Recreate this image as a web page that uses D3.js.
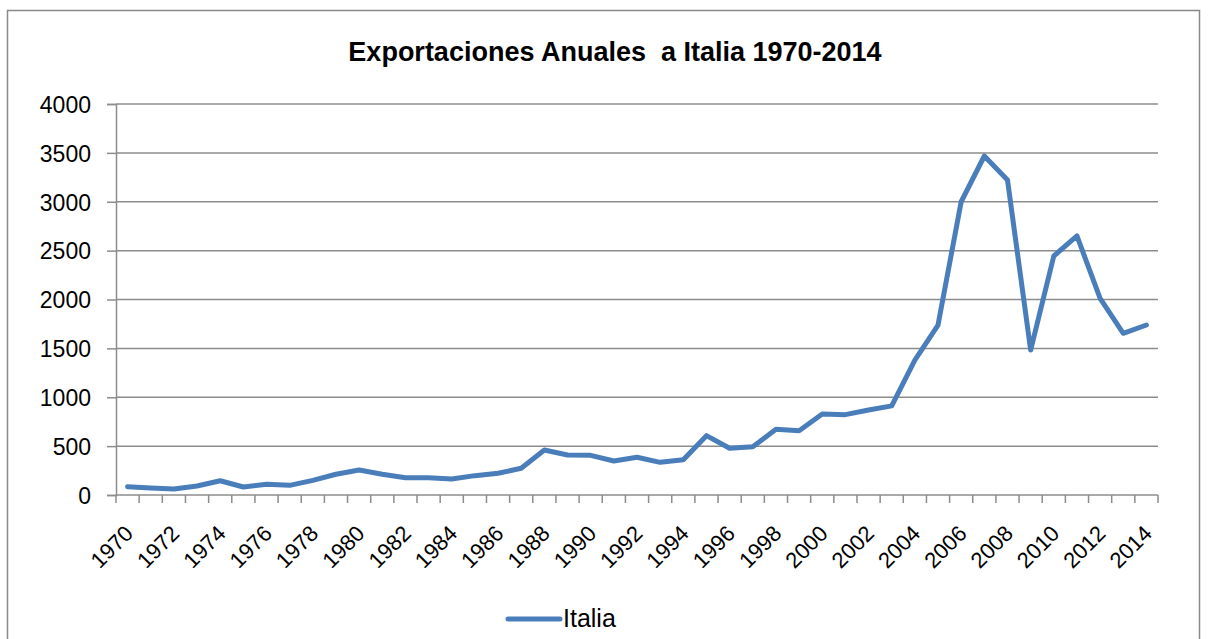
<!DOCTYPE html>
<html>
<head>
<meta charset="utf-8">
<script src="https://cdn.jsdelivr.net/npm/d3@7"></script>
<style>
  body { margin: 0; background: #fff; }
  text { font-family: "Liberation Sans", Arial, sans-serif; fill: #000; }
</style>
</head>
<body>
<svg id="chart"></svg>
<script>
const years = d3.range(1970, 2015)
const exportsItalia = [85, 72, 61, 92, 146, 82, 109, 99, 150, 212,
  256, 212, 177, 177, 164, 198, 222, 273, 460, 409,
  406, 348, 386, 334, 361, 607, 478, 494, 672, 658,
  829, 822, 870, 912, 1381, 1739, 3000, 3468, 3223, 1483,
  2445, 2650, 2012, 1654, 1739]
const yTicks = [0, 500, 1000, 1500, 2000, 2500, 3000, 3500, 4000]
const titleText = "Exportaciones Anuales\u00a0 a Italia 1970-2014"
const seriesName = "Italia"

const totalWidth = 1209, totalHeight = 639
const margin = { top: 104, right: 51, bottom: 144, left: 116 }
const chartWidth = totalWidth - margin.left - margin.right
const chartHeight = totalHeight - margin.top - margin.bottom

const svg = d3.select("#chart")
  .attr("width", totalWidth)
  .attr("height", totalHeight)

// cadre
svg.append("rect")
  .attr("x", 7.5).attr("y", 10.5)
  .attr("width", 1192).attr("height", 640)
  .attr("fill", "none").attr("stroke", "#898989").attr("stroke-width", 1.5)

svg.append("text")
  .attr("x", 615).attr("y", 61)
  .attr("text-anchor", "middle")
  .style("font-size", "27px").style("font-weight", "bold")
  .text(titleText)

const chart = svg.append("g")
  .attr("transform", "translate(" + margin.left + "," + margin.top + ")")

const xScale = d3.scaleBand().domain(years).range([0, chartWidth])
const yScale = d3.scaleLinear().domain([0, 4000]).range([chartHeight, 0])

// grille
chart.selectAll(".grid")
  .data(yTicks.filter(d => d > 0))
  .enter().append("line")
  .attr("class", "grid")
  .attr("x1", 0).attr("x2", chartWidth)
  .attr("y1", d => yScale(d)).attr("y2", d => yScale(d))
  .attr("stroke", "#8c8c8c").attr("stroke-width", 1.5)

// axe Y
const yAxis = d3.axisLeft(yScale).tickValues(yTicks).tickFormat(d3.format("d"))
  .tickSize(9).tickPadding(16)
const gy = chart.append("g").call(yAxis)
gy.select(".domain").attr("stroke", "#8c8c8c").attr("stroke-width", 1.5)
gy.selectAll(".tick line").attr("stroke", "#8c8c8c").attr("stroke-width", 1.5)
gy.selectAll(".tick text").style("font-size", "23px")
  .attr("font-family", null).attr("dy", "0.36em")

// axe X : graduations aux bords des catégories
const gx = chart.append("g").attr("transform", "translate(0," + chartHeight + ")")
gx.append("line")
  .attr("x1", 0).attr("x2", chartWidth)
  .attr("stroke", "#8c8c8c").attr("stroke-width", 1.5)
gx.selectAll(".xtick")
  .data(years.concat([2015]))
  .enter().append("line")
  .attr("class", "xtick")
  .attr("x1", (d, i) => i * xScale.step()).attr("x2", (d, i) => i * xScale.step())
  .attr("y1", 0).attr("y2", 8)
  .attr("stroke", "#8c8c8c").attr("stroke-width", 1.5)
gx.selectAll(".xlabel")
  .data(years.filter(y => (y - 1970) % 2 === 0))
  .enter().append("text")
  .attr("class", "xlabel")
  .attr("text-anchor", "end")
  .attr("transform", d => "translate(" + (xScale(d) + xScale.bandwidth() / 2 - 4) + ",29) rotate(-45)")
  .attr("dy", "0.7em")
  .style("font-size", "22px")
  .text(d => d)

// ligne
const line = d3.line()
  .x((d, i) => xScale(years[i]) + xScale.bandwidth() / 2)
  .y(d => yScale(d))

chart.append("path")
  .datum(exportsItalia)
  .attr("d", line)
  .attr("fill", "none")
  .attr("stroke", "#4a7ebb")
  .attr("stroke-width", 5)
  .attr("stroke-linejoin", "round")
  .attr("stroke-linecap", "round")

// légende
svg.append("line")
  .attr("x1", 508).attr("x2", 560)
  .attr("y1", 619).attr("y2", 619)
  .attr("stroke", "#4a7ebb").attr("stroke-width", 5)
  .attr("stroke-linecap", "round")
svg.append("text")
  .attr("x", 563).attr("y", 627)
  .style("font-size", "25px")
  .text(seriesName)
</script>
</body>
</html>
